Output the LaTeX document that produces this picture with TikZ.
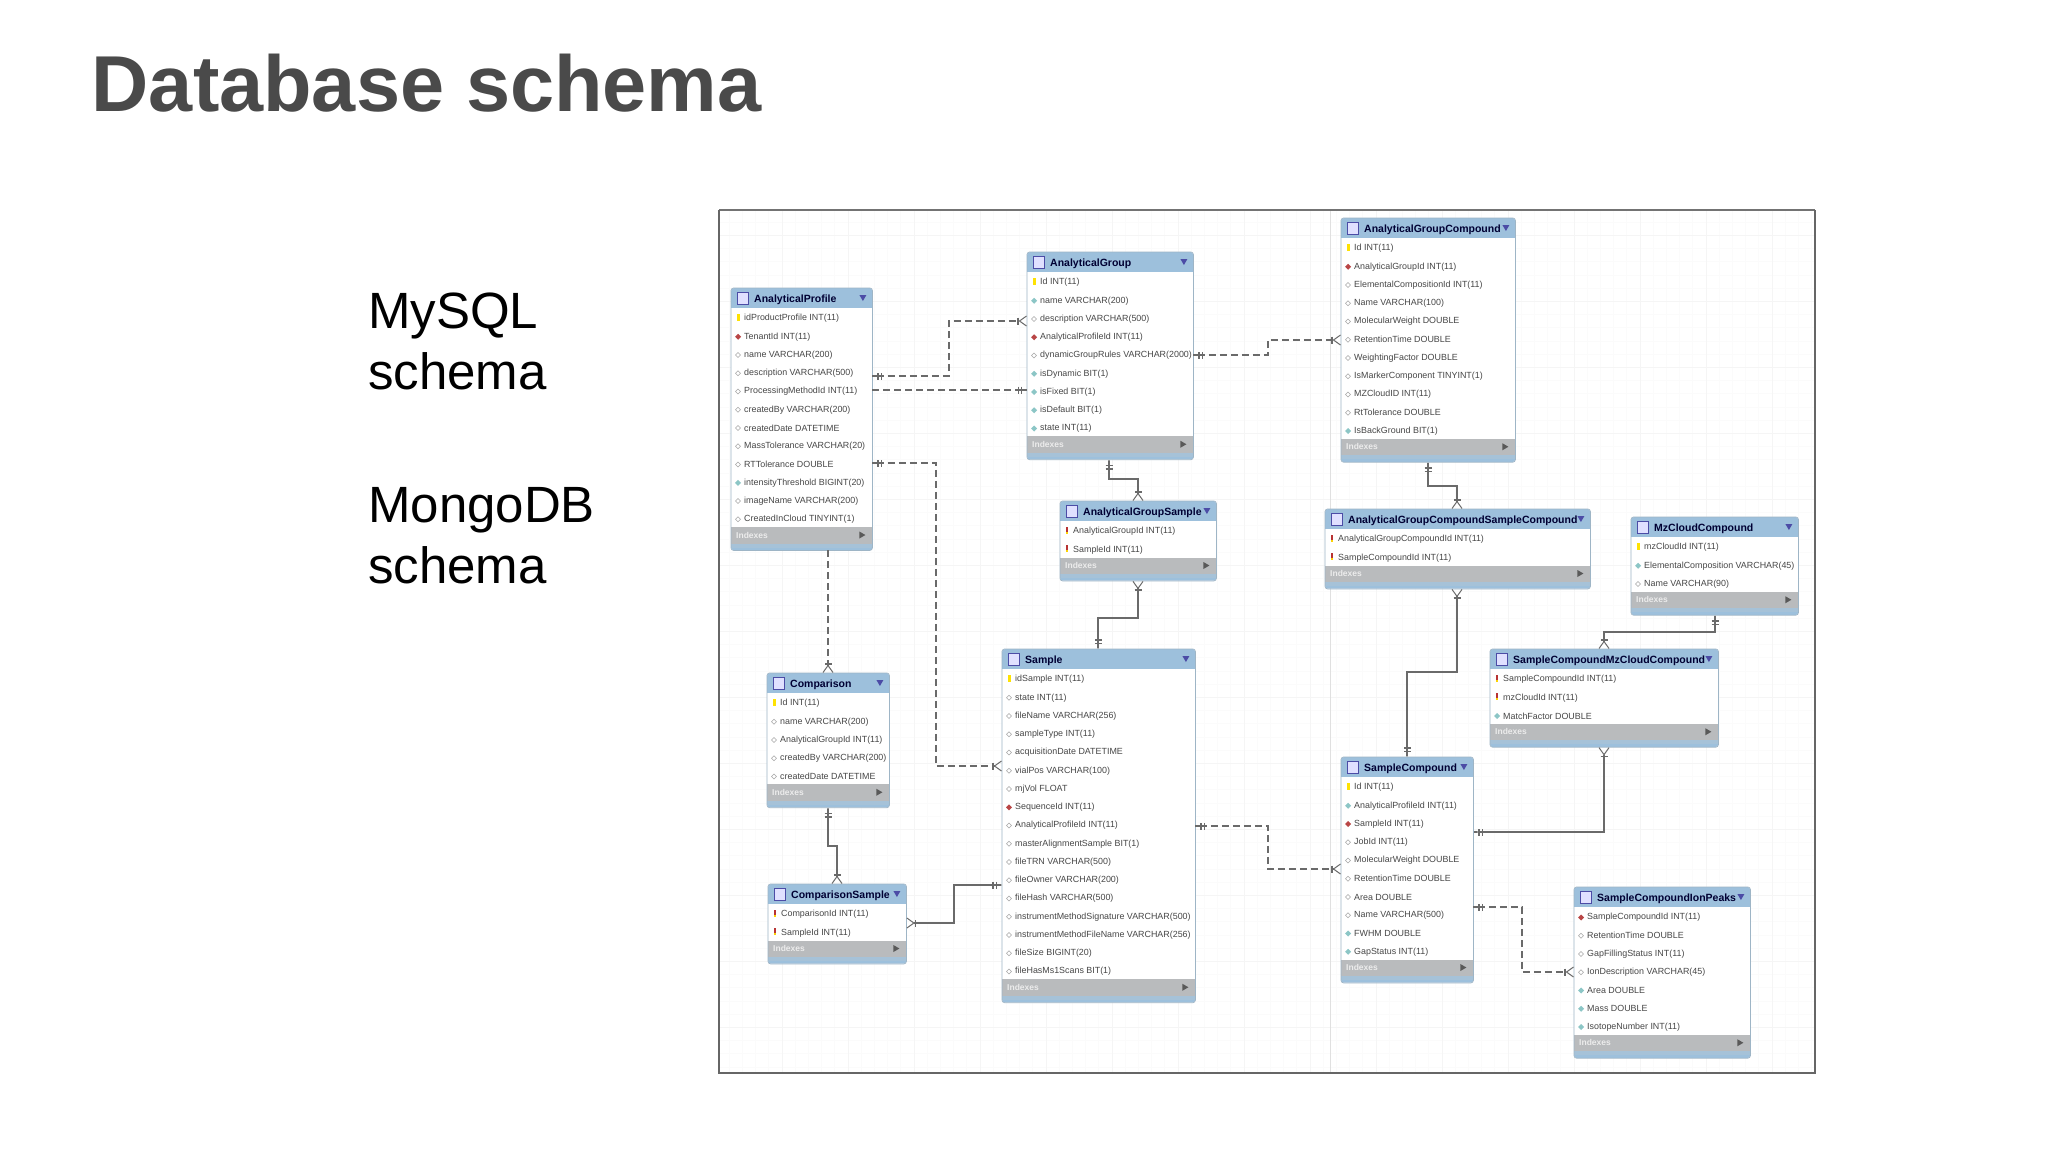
\documentclass[tikz,border=0pt]{standalone}
\usepackage{fontspec}
\setmainfont{Liberation Sans}
\usetikzlibrary{arrows.meta}

\definecolor{headblue}{HTML}{9DC0DC}
\definecolor{stripblue}{HTML}{A6C2D8}
\definecolor{bandgray}{HTML}{B9BBBD}
\definecolor{linkgray}{HTML}{6A6A6A}
\definecolor{titlegray}{HTML}{4A4A4A}

\tikzset{
  One/.tip={Bar[width=7pt,sep=2pt]Bar[width=7pt,sep=0pt]Rectangle[length=5pt,width=1.5pt,sep=0pt]},
  Many/.tip={Bar[width=7pt,sep=0pt]Straight Barb[reversed,length=7pt,width=10pt,line width=1pt]},
  link/.style={draw=linkgray,line width=1.5pt},
  fklink/.style={draw=linkgray,line width=1.2pt,dash pattern=on 7pt off 4pt},
  tablebox/.style={fill=headblue,rounded corners=2.5pt,inner sep=0pt,anchor=north west},
  tableedge/.style={draw=stripblue!80!gray,line width=0.7pt,rounded corners=2.5pt},
  tabletitle/.style={anchor=west,inner sep=0pt,font=\fontsize{10.5}{12}\selectfont\bfseries,text=black!80!blue},
  tablerow/.style={anchor=west,inner sep=0pt,font=\fontsize{8.9}{11}\selectfont,text=black!72},
  tableindex/.style={anchor=west,inner sep=0pt,font=\fontsize{8.5}{10}\selectfont\bfseries,text=white!85!gray},
  icony/.pic={\fill[yellow!85!orange] (-1.5,-5) rectangle (1.5,2);},
  iconk/.pic={\fill[red!65!black!80] (-1,-5) rectangle (1,0);\fill[yellow!70!orange] (-1,0) rectangle (1,2);},
  iconr/.pic={\fill[red!45!gray] (-3,0) -- (0,-3) -- (3,0) -- (0,3) -- cycle;},
  icong/.pic={\fill[teal!45!white] (-3,0) -- (0,-3) -- (3,0) -- (0,3) -- cycle;},
  icono/.pic={\draw[gray!70,fill=white,line width=0.6pt] (-2.5,0) -- (0,-2.5) -- (2.5,0) -- (0,2.5) -- cycle;},
}

% name, left, top, right, rows, title, columns
\newcommand{\dbtable}[7]{%
  \pgfmathsetmacro{\tw}{#4-#2}
  \pgfmathsetmacro{\tg}{20+#5*18.25}
  \pgfmathsetmacro{\th}{\tg+23}
  \pgfmathsetmacro{\tb}{\tg+16.5}
  \pgfmathsetmacro{\ti}{\tg+8}
  \pgfmathsetmacro{\tt}{\tg+4.5}
  \node[tablebox,minimum width=\tw pt,minimum height=\th pt] (#1) at (#2,#3) {};
  \fill[white] ([yshift=-20pt]#1.north west) rectangle ([yshift=-\tg pt]#1.north east);
  \fill[bandgray] ([yshift=-\tg pt]#1.north west) rectangle ([yshift=-\tb pt]#1.north east);
  \fill[stripblue] ([yshift=-\tb pt]#1.north west) rectangle ([yshift=-\th pt+2.5pt]#1.north east);
  \draw[tableedge] (#1.north west) rectangle (#1.south east);
  \draw[draw=blue!50!black!70,fill=blue!12!white,line width=0.7pt] ([xshift=6pt,yshift=-4pt]#1.north west) rectangle ++(11,12);
  \node[tabletitle] (#1-title) at ([xshift=23pt,yshift=-11.5pt]#1.north west) {#6};
  \fill[blue!50!black!70] ([xshift=-13pt,yshift=-7pt]#1.north east) -- ++(7,0) -- ++(-3.5,6) -- cycle;
  \node[tableindex] (#1-index) at ([xshift=5pt,yshift=-\ti pt]#1.north west) {Indexes};
  \fill[black!65] ([xshift=-13pt,yshift=-\tt pt]#1.north east) -- ++(0,7) -- ++(6,-3.5) -- cycle;
  \foreach \rk/\rt [count=\ri from 0] in {#7} {
    \pgfmathsetmacro{\ry}{30.5+\ri*18.25}
    \pic at ([xshift=7pt,yshift=-\ry pt]#1.north west) {icon\rk};
    \node[tablerow] (#1-\ri) at ([xshift=13pt,yshift=-\ry pt]#1.north west) {\rt};
  }
}

\begin{document}
\begin{tikzpicture}[x=1pt,y=-1pt]
\useasboundingbox (0,0) rectangle (2048,1152);
\fill[white] (0,0) rectangle (2048,1152);

\node[anchor=base west,inner sep=0pt,font=\fontsize{79.3}{90}\selectfont\bfseries,text=titlegray] (title) at (91.5,111) {Database schema};
\node[anchor=north west,inner sep=0pt,align=left,font=\fontsize{51}{61}\selectfont] (mysql) at (368,293) {MySQL\\schema};
\node[anchor=north west,inner sep=0pt,align=left,font=\fontsize{51}{61}\selectfont] (mongo) at (368,487) {MongoDB\\schema};

% canvas
\begin{scope}
\clip (719,210) rectangle (1815,1073);
\foreach \gx in {729,742.2,...,1815} \draw[black!1.5,line width=0.5pt] (\gx,210) -- (\gx,1073);
\foreach \gy in {222,235.2,...,1073} \draw[black!1.5,line width=0.5pt] (719,\gy) -- (1815,\gy);
\foreach \gx in {782,848,...,1815} \draw[black!4,line width=0.8pt] (\gx,210) -- (\gx,1073);
\foreach \gy in {235,301,...,1073} \draw[black!4,line width=0.8pt] (719,\gy) -- (1815,\gy);
\draw[black!12,line width=0.8pt] (1330,210) -- (1330,1073);
\end{scope}
\draw[black!55,line width=2pt] (719,210) -- (1815,210);
\draw[black!60,line width=1.2pt] (1815,210) -- (1815,1073) -- (719,1073) -- (719,210);

\dbtable{profile}{731}{288}{872}{12}{AnalyticalProfile}{y/idProductProfile INT(11),r/TenantId INT(11),o/name VARCHAR(200),o/description VARCHAR(500),o/ProcessingMethodId INT(11),o/createdBy VARCHAR(200),o/createdDate DATETIME,o/MassTolerance VARCHAR(20),o/RTTolerance DOUBLE,g/intensityThreshold BIGINT(20),o/imageName VARCHAR(200),o/CreatedInCloud TINYINT(1)}
\dbtable{group}{1027}{252}{1193}{9}{AnalyticalGroup}{y/Id INT(11),g/name VARCHAR(200),o/description VARCHAR(500),r/AnalyticalProfileId INT(11),o/dynamicGroupRules VARCHAR(2000),g/isDynamic BIT(1),g/isFixed BIT(1),g/isDefault BIT(1),g/state INT(11)}
\dbtable{groupsample}{1060}{501}{1216}{2}{AnalyticalGroupSample}{k/AnalyticalGroupId INT(11),k/SampleId INT(11)}
\dbtable{groupcomp}{1341}{218}{1515}{11}{AnalyticalGroupCompound}{y/Id INT(11),r/AnalyticalGroupId INT(11),o/ElementalCompositionId INT(11),o/Name VARCHAR(100),o/MolecularWeight DOUBLE,o/RetentionTime DOUBLE,o/WeightingFactor DOUBLE,o/IsMarkerComponent TINYINT(1),o/MZCloudID INT(11),o/RtTolerance DOUBLE,g/IsBackGround BIT(1)}
\dbtable{groupcompsample}{1325}{509}{1590}{2}{AnalyticalGroupCompoundSampleCompound}{k/AnalyticalGroupCompoundId INT(11),k/SampleCompoundId INT(11)}
\dbtable{mzcloud}{1631}{517}{1798}{3}{MzCloudCompound}{y/mzCloudId INT(11),g/ElementalComposition VARCHAR(45),o/Name VARCHAR(90)}
\dbtable{samplemz}{1490}{649}{1718}{3}{SampleCompoundMzCloudCompound}{k/SampleCompoundId INT(11),k/mzCloudId INT(11),g/MatchFactor DOUBLE}
\dbtable{comparison}{767}{673}{889}{5}{Comparison}{y/Id INT(11),o/name VARCHAR(200),o/AnalyticalGroupId INT(11),o/createdBy VARCHAR(200),o/createdDate DATETIME}
\dbtable{compsample}{768}{884}{906}{2}{ComparisonSample}{k/ComparisonId INT(11),k/SampleId INT(11)}
\dbtable{sample}{1002}{649}{1195}{17}{Sample}{y/idSample INT(11),o/state INT(11),o/fileName VARCHAR(256),o/sampleType INT(11),o/acquisitionDate DATETIME,o/vialPos VARCHAR(100),o/mjVol FLOAT,r/SequenceId INT(11),o/AnalyticalProfileId INT(11),o/masterAlignmentSample BIT(1),o/fileTRN VARCHAR(500),o/fileOwner VARCHAR(200),o/fileHash VARCHAR(500),o/instrumentMethodSignature VARCHAR(500),o/instrumentMethodFileName VARCHAR(256),o/fileSize BIGINT(20),o/fileHasMs1Scans BIT(1)}
\dbtable{compound}{1341}{757}{1473}{10}{SampleCompound}{y/Id INT(11),g/AnalyticalProfileId INT(11),r/SampleId INT(11),o/JobId INT(11),o/MolecularWeight DOUBLE,o/RetentionTime DOUBLE,o/Area DOUBLE,o/Name VARCHAR(500),g/FWHM DOUBLE,g/GapStatus INT(11)}
\dbtable{ionpeaks}{1574}{887}{1750}{7}{SampleCompoundIonPeaks}{r/SampleCompoundId INT(11),o/RetentionTime DOUBLE,o/GapFillingStatus INT(11),o/IonDescription VARCHAR(45),g/Area DOUBLE,g/Mass DOUBLE,g/IsotopeNumber INT(11)}

% relations
\draw[fklink,{One}-{Many}] (profile.east |- 0,376) -- (949,376) -- (949,321) -- (group.west |- 0,321);
\draw[fklink,-{One}] (profile.east |- 0,390) -- (group.west |- 0,390);
\draw[fklink,{One}-{Many}] (profile.east |- 0,463) -- (936,463) -- (936,766) -- (sample.west |- 0,766);
\draw[fklink,-{Many}] (profile.south -| 828,0) -- (comparison.north -| 828,0);
\draw[link,{One}-{Many}] (group.south -| 1109,0) -- (1109,479) -- (1138,479) -- (groupsample.north -| 1138,0);
\draw[link,{Many}-{One}] (groupsample.south -| 1138,0) -- (1138,618) -- (1098,618) -- (sample.north -| 1098,0);
\draw[fklink,{One}-{Many}] (group.east |- 0,355) -- (1268,355) -- (1268,340) -- (groupcomp.west |- 0,340);
\draw[link,{One}-{Many}] (groupcomp.south -| 1428,0) -- (1428,486) -- (1457,486) -- (groupcompsample.north -| 1457,0);
\draw[link,{Many}-{One}] (groupcompsample.south -| 1457,0) -- (1457,672) -- (1407,672) -- (compound.north -| 1407,0);
\draw[link,{One}-{Many}] (mzcloud.south -| 1715,0) -- (1715,632) -- (1604,632) -- (samplemz.north -| 1604,0);
\draw[link,{Many}-{One}] (samplemz.south -| 1604,0) -- (1604,832) -- (compound.east |- 0,832);
\draw[fklink,{One}-{Many}] (sample.east |- 0,826) -- (1268,826) -- (1268,869) -- (compound.west |- 0,869);
\draw[fklink,{One}-{Many}] (compound.east |- 0,907) -- (1522,907) -- (1522,972) -- (ionpeaks.west |- 0,972);
\draw[link,{One}-{Many}] (comparison.south -| 828,0) -- (828,846) -- (837,846) -- (compsample.north -| 837,0);
\draw[link,{Many}-{One}] (compsample.east |- 0,923) -- (954,923) -- (954,885) -- (sample.west |- 0,885);

\end{tikzpicture}
\end{document}
